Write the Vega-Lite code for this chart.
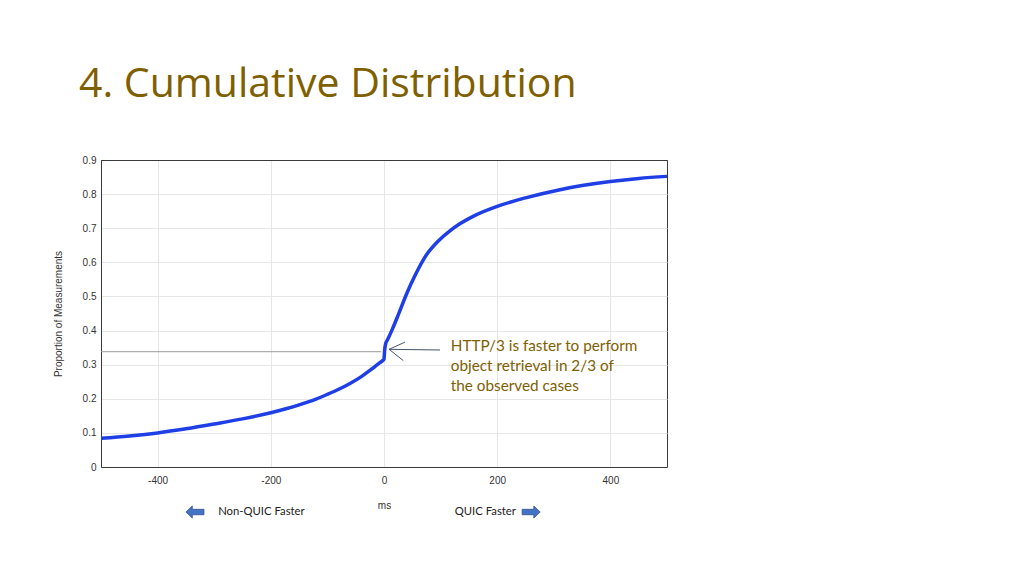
{
  "$schema": "https://vega.github.io/schema/vega-lite/v6.json",
  "width": 566,
  "height": 307,
  "autosize": {"type": "none"},
  "padding": {"left": 101, "top": 160, "right": 357, "bottom": 109},
  "background": "white",
  "title": {
    "text": "4. Cumulative Distribution",
    "anchor": "start",
    "frame": "group",
    "dx": -22,
    "offset": 17,
    "font": "Open Sans",
    "fontSize": 41,
    "fontWeight": "normal",
    "color": "#7f6000",
    "baseline": "alphabetic"
  },
  "config": {
    "view": {"stroke": "#3a3a3a", "strokeWidth": 1},
    "axis": {
      "labelFont": "Liberation Sans",
      "labelFontSize": 10,
      "labelColor": "#333333",
      "labelOverlap": false,
      "titleFont": "Liberation Sans",
      "titleFontSize": 10,
      "titleFontWeight": "normal",
      "titleColor": "#333333",
      "gridColor": "#e6e6e6",
      "domain": true,
      "domainColor": "#3a3a3a",
      "ticks": false
    }
  },
  "datasets": {
    "cdf": [
      {"ms": -500, "p": 0.084},
      {"ms": -450, "p": 0.091},
      {"ms": -400, "p": 0.100},
      {"ms": -350, "p": 0.112},
      {"ms": -300, "p": 0.126},
      {"ms": -250, "p": 0.141},
      {"ms": -200, "p": 0.159},
      {"ms": -150, "p": 0.182},
      {"ms": -120, "p": 0.199},
      {"ms": -100, "p": 0.213},
      {"ms": -80, "p": 0.228},
      {"ms": -60, "p": 0.245},
      {"ms": -40, "p": 0.265},
      {"ms": -25, "p": 0.283},
      {"ms": -15, "p": 0.296},
      {"ms": -8, "p": 0.305},
      {"ms": -3, "p": 0.311},
      {"ms": 0, "p": 0.316},
      {"ms": 1, "p": 0.340},
      {"ms": 3, "p": 0.362},
      {"ms": 6, "p": 0.372},
      {"ms": 15, "p": 0.405},
      {"ms": 25, "p": 0.445},
      {"ms": 40, "p": 0.508},
      {"ms": 55, "p": 0.562},
      {"ms": 75, "p": 0.622},
      {"ms": 95, "p": 0.661},
      {"ms": 117, "p": 0.693},
      {"ms": 134, "p": 0.713},
      {"ms": 160, "p": 0.737},
      {"ms": 200, "p": 0.764},
      {"ms": 250, "p": 0.789},
      {"ms": 311, "p": 0.813},
      {"ms": 350, "p": 0.825},
      {"ms": 400, "p": 0.837},
      {"ms": 450, "p": 0.846},
      {"ms": 500, "p": 0.852}
    ]
  },
  "encoding": {
    "x": {
      "field": "ms", "type": "quantitative",
      "scale": {"domain": [-500, 500], "nice": false},
      "axis": {"title": "ms", "values": [-400, -200, 0, 200, 400], "labelExpr": "replace(datum.label, '\u2212', '-')", "labelPadding": 8, "titlePadding": 15, "grid": true}
    },
    "y": {
      "field": "p", "type": "quantitative",
      "scale": {"domain": [0, 0.9], "nice": false},
      "axis": {"title": "Proportion of Measurements", "values": [0, 0.1, 0.2, 0.3, 0.4, 0.5, 0.6, 0.7, 0.8, 0.9], "labelExpr": "datum.value == 0 ? '0' : format(datum.value, '.1f')", "labelPadding": 5, "titlePadding": 19, "grid": true,
        "gridColor": {"condition": {"test": "datum.value >= 0.89", "value": "#3a3a3a"}, "value": "#e6e6e6"}}
    }
  },
  "layer": [
    {
      "data": {"name": "cdf"},
      "mark": {"type": "line", "color": "#1f3fe6", "strokeWidth": 3.5, "interpolate": "monotone"}
    },
    {
      "data": {"values": [{"ms": -500, "ms2": -5, "p": 0.338, "p2": 0.338}]},
      "mark": {"type": "rule", "color": "#9a9a9a", "strokeWidth": 1},
      "encoding": {
        "x2": {"field": "ms2"},
        "y2": {"field": "p2"}
      }
    },
    {
      "data": {"values": [
        {"ms": 99, "ms2": 9, "p": 0.343, "p2": 0.345},
        {"ms": 9, "ms2": 37, "p": 0.345, "p2": 0.366},
        {"ms": 9, "ms2": 34, "p": 0.345, "p2": 0.312}
      ]},
      "mark": {"type": "rule", "color": "#44546a", "strokeWidth": 1},
      "encoding": {
        "x2": {"field": "ms2"},
        "y2": {"field": "p2"}
      }
    },
    {
      "data": {"values": [
        {"ms": 118, "p": 0.355, "t": "HTTP/3 is faster to perform"},
        {"ms": 118, "p": 0.296, "t": "object retrieval in 2/3 of"},
        {"ms": 118, "p": 0.237, "t": "the observed cases"}
      ]},
      "mark": {"type": "text", "align": "left", "baseline": "middle", "font": "Lato", "fontSize": 15.3, "color": "#7f6000"},
      "encoding": {
        "text": {"field": "t"}
      }
    },
    {
      "data": {"values": [
        {"ms": -293, "p": -0.132, "t": "Non-QUIC Faster"},
        {"ms": 125, "p": -0.132, "t": "QUIC Faster"}
      ]},
      "mark": {"type": "text", "align": "left", "baseline": "middle", "font": "Lato", "fontSize": 11.3, "color": "#222222", "clip": false},
      "encoding": {
        "text": {"field": "t"}
      }
    },
    {
      "data": {"values": [{"ms": -334, "p": -0.132}]},
      "mark": {"type": "point", "filled": true, "opacity": 1, "color": "#4472c4", "stroke": "#2f528f", "strokeWidth": 0.8, "size": 324,
        "shape": "M-1,0L-0.3,-0.67L-0.3,-0.3L1,-0.3L1,0.3L-0.3,0.3L-0.3,0.67Z"}
    },
    {
      "data": {"values": [{"ms": 260, "p": -0.132}]},
      "mark": {"type": "point", "filled": true, "opacity": 1, "color": "#4472c4", "stroke": "#2f528f", "strokeWidth": 0.8, "size": 324,
        "shape": "M1,0L0.3,-0.67L0.3,-0.3L-1,-0.3L-1,0.3L0.3,0.3L0.3,0.67Z"}
    }
  ]
}
